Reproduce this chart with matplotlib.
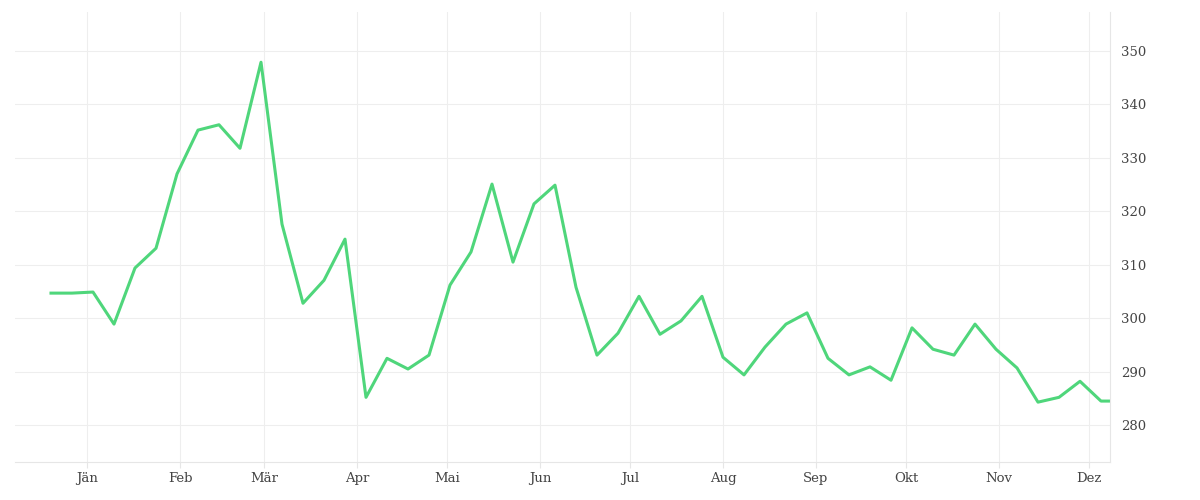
import matplotlib
matplotlib.use("Agg")
import matplotlib.pyplot as plt
import matplotlib.dates as mdates
import numpy as np
from datetime import date, timedelta

start = date(2020, 12, 20)
values = [304.7, 304.7, 304.9, 298.9, 309.4, 313.1, 327.0, 335.2, 336.2, 331.8,
          347.9, 317.6, 302.8, 307.1, 314.8, 285.2, 292.5, 290.5, 293.1, 306.2,
          312.4, 325.1, 310.5, 321.4, 324.9, 305.8, 293.1, 297.2, 304.1, 297.0,
          299.5, 304.1, 292.7, 289.4, 294.6, 298.9, 301.0, 292.5, 289.4, 290.9,
          288.4, 298.2, 294.2, 293.1, 298.9, 294.2, 290.7, 284.3, 285.2, 288.2,
          284.5, 284.5]
dates = [start + timedelta(weeks=i) for i in range(len(values) - 1)]
dates.append(date(2021, 12, 8))

month_labels = ["Jän", "Feb", "Mär", "Apr", "Mai", "Jun", "Jul", "Aug", "Sep", "Okt", "Nov", "Dez"]
month_ticks = [date(2021, m, 1) for m in range(1, 13)]
y_ticks = [280, 290, 300, 310, 320, 330, 340, 350]

plt.rcParams['font.family'] = ['DejaVu Serif']
fig = plt.figure(figsize=(12, 5), dpi=100)
ax = fig.add_axes([15/1200, 38/500, 1095/1200, 450/500])
ax.plot(dates, values, color='#4fd67b', lw=2.2)

ax.set_xlim(date(2020, 12, 8), date(2021, 12, 8))
ax.set_ylim(273.1, 357.3)
ax.set_xticks(month_ticks)
ax.set_xticklabels(month_labels)
ax.set_yticks(y_ticks)
ax.yaxis.tick_right()
ax.grid(True, color='#eeeeee', lw=0.8)
for s in ['top', 'left']:
    ax.spines[s].set_visible(False)
for s in ['bottom', 'right']:
    ax.spines[s].set_color('#e6e6e6')
ax.tick_params(axis='both', length=4, color='#e6e6e6', labelsize=9.5, labelcolor='#444444')
ax.tick_params(axis='y', length=0, pad=8)

fig.savefig('out.png', dpi=100)
